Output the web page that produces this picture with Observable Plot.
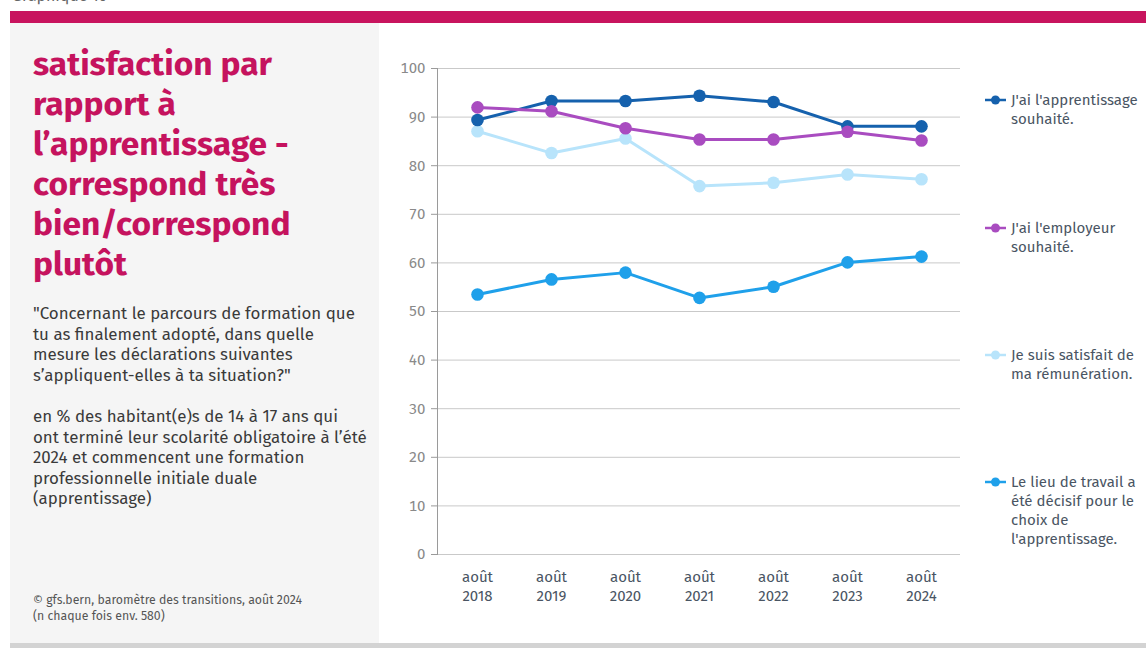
<!DOCTYPE html>
<html>
<head>
<meta charset="utf-8">
<script src="https://cdn.jsdelivr.net/npm/d3@7"></script>
<script src="https://cdn.jsdelivr.net/npm/@observablehq/plot@0.6"></script>
<style>
  html, body { margin: 0; padding: 0; background: #fff; }
  body { width: 1146px; height: 648px; position: relative; overflow: hidden; font-family: "Fira Sans", "Open Sans", sans-serif; }
  .abs { position: absolute; }
  #topcut { left: 12px; top: -14px; font-size: 16px; color: #666; white-space: nowrap; }
  #bar { left: 10px; top: 11px; width: 1136px; height: 12px; background: #c8145e; }
  #panel { left: 10px; top: 23px; width: 369px; height: 620px; background: #f5f5f5; }
  #bottombar { left: 10px; top: 643px; width: 1136px; height: 5px; background: #d3d3d3; }
  #title { left: 33px; top: 44px; font-size: 33.5px; font-weight: 700; line-height: 40px; color: #c5135e; white-space: nowrap; }
  .para { left: 33px; font-size: 16.9px; line-height: 20.5px; color: #3a3a3a; white-space: nowrap; }
  #q { top: 303px; }
  #base { top: 406px; }
  #source { left: 33px; top: 592px; font-size: 12.3px; line-height: 15.5px; color: #555; white-space: nowrap; }
  #chart { left: 380px; top: 40px; }
  .leg { left: 985px; font-size: 15px; line-height: 19px; color: #4a5563; display: flex; align-items: flex-start; white-space: nowrap; }
  .leg svg { flex: none; margin-top: 3px; margin-right: 5px; }
</style>
</head>
<body>
<div class="abs" id="topcut">Graphique 16</div>
<div class="abs" id="bar"></div>
<div class="abs" id="panel"></div>
<div class="abs" id="bottombar"></div>
<div class="abs" id="title"></div>
<div class="abs para" id="q"></div>
<div class="abs para" id="base"></div>
<div class="abs" id="source"></div>
<div class="abs" id="chart"></div>
<div id="legend"></div>
<script>
// ---- data ----
const xLabels = ["août 2018", "août 2019", "août 2020", "août 2021", "août 2022", "août 2023", "août 2024"];
const seriesNames = [
  "J'ai l'apprentissage souhaité.",
  "J'ai l'employeur souhaité.",
  "Je suis satisfait de ma rémunération.",
  "Le lieu de travail a été décisif pour le choix de l'apprentissage."
];
const legendLines = [
  ["J'ai l'apprentissage", "souhaité."],
  ["J'ai l'employeur", "souhaité."],
  ["Je suis satisfait de", "ma rémunération."],
  ["Le lieu de travail a", "été décisif pour le", "choix de", "l'apprentissage."]
];
const apprentissage = [89.4, 93.3, 93.3, 94.4, 93.1, 88.1, 88.1];
const employeur     = [92.0, 91.2, 87.7, 85.4, 85.4, 87.0, 85.2];
const remuneration  = [87.1, 82.6, 85.6, 75.8, 76.5, 78.2, 77.2];
const lieu          = [53.5, 56.6, 58.0, 52.8, 55.1, 60.1, 61.3];
const yTicks = [0, 10, 20, 30, 40, 50, 60, 70, 80, 90, 100];
const colors = ["#1561ad", "#a94cc0", "#b8e4fb", "#1fa0ea"];

const titleLines = ["satisfaction par", "rapport à", "l’apprentissage -", "correspond très", "bien/correspond", "plutôt"];
const questionLines = ["\"Concernant le parcours de formation que", "tu as finalement adopté, dans quelle", "mesure les déclarations suivantes", "s’appliquent-elles à ta situation?\""];
const baseLines = ["en % des habitant(e)s de 14 à 17 ans qui", "ont terminé leur scolarité obligatoire à l’été", "2024 et commencent une formation", "professionnelle initiale duale", "(apprentissage)"];
const sourceLines = ["©  gfs.bern, baromètre des transitions, août 2024", "(n chaque fois env. 580)"];

// ---- text ----
function setLines(id, lines) {
  const el = document.getElementById(id);
  lines.forEach((l, i) => { if (i) el.appendChild(document.createElement("br")); el.appendChild(document.createTextNode(l)); });
}
setLines("title", titleLines);
setLines("q", questionLines);
setLines("base", baseLines);
setLines("source", sourceLines);

// ---- table ----
const allSeries = [apprentissage, employeur, remuneration, lieu];
const data = [];
const drawOrder = [3, 2, 0, 1];
drawOrder.forEach(s => allSeries[s].forEach((v, i) => data.push({x: xLabels[i], y: v, s: seriesNames[s]})));

const chart = Plot.plot({
  width: 600,
  height: 560,
  marginLeft: 57,
  marginRight: 20,
  marginTop: 28,
  marginBottom: 46,
  style: {fontFamily: "'Fira Sans', 'Open Sans', sans-serif", fontSize: "15px", background: "transparent", overflow: "visible"},
  x: {type: "point", domain: xLabels, padding: 0.5, label: null},
  y: {domain: [0, 100], label: null},
  color: {domain: seriesNames, range: colors},
  marks: [
    Plot.gridY(yTicks, {stroke: "#c9c9c9", strokeOpacity: 1, strokeWidth: 1}),
    Plot.frame({anchor: "left", stroke: "#9a9a9a"}),
    Plot.axisY(yTicks, {tickSize: 6, tickPadding: 6, stroke: "#9a9a9a", fill: "#8a8a8a", label: null}),
    Plot.axisX({tickSize: 0, tickPadding: 14, fill: "#4a5563", label: null, lineHeight: 1.25,
                tickFormat: d => d.replace(" ", "\n")}),
    Plot.line(data, {x: "x", y: "y", z: "s", stroke: "s", strokeWidth: 3, curve: "linear"}),
    Plot.dot(data, {x: "x", y: "y", fill: "s", r: 6.3})
  ]
});
document.getElementById("chart").appendChild(chart);

// ---- legend ----
const legendTops = [91, 219, 346, 473];
const legend = document.getElementById("legend");
seriesNames.forEach((name, i) => {
  const d = document.createElement("div");
  d.className = "abs leg";
  d.style.top = legendTops[i] + "px";
  d.innerHTML = `<svg width="21" height="12"><line x1="0" x2="21" y1="6" y2="6" stroke="${colors[i]}" stroke-width="2.5"/><circle cx="10.5" cy="6" r="4.5" fill="${colors[i]}"/></svg>`;
  const t = document.createElement("div");
  legendLines[i].forEach((l, k) => { if (k) t.appendChild(document.createElement("br")); t.appendChild(document.createTextNode(l)); });
  d.appendChild(t);
  legend.appendChild(d);
});
</script>
</body>
</html>
